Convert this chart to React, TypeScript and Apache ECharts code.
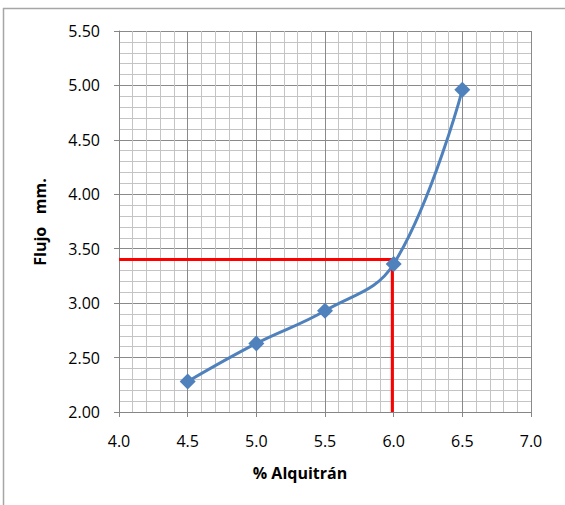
import React, { useEffect, useRef } from "react";
import * as echarts from "echarts";

const alquitran = [4.5, 5.0, 5.5, 6.0, 6.5];
const flujo = [2.28, 2.63, 2.93, 3.36, 4.96];
const refX = [4.0, 5.99, 5.99];
const refY = [3.4, 3.4, 2.0];
const xTitle = "% Alquitrán";
const yTitle = "Flujo   mm.";

export default function App() {
  const ref = useRef<HTMLDivElement>(null);
  useEffect(() => {
    if (!ref.current) return;
    const chart = echarts.init(ref.current, undefined, { renderer: "svg" });
    const font = "'Open Sans', 'Noto Sans', sans-serif";
    chart.setOption({
      animation: false,
      backgroundColor: "#fff",
      grid: { left: 119, top: 31, right: 34, bottom: 93 },
      xAxis: {
        type: "value",
        min: 4.0,
        max: 7.0,
        interval: 0.5,
        axisLine: { show: true, lineStyle: { color: "#868686", width: 1 } },
        axisTick: { show: true, length: 5, lineStyle: { color: "#868686" } },
        axisLabel: {
          margin: 21,
          color: "#000",
          fontFamily: font,
          fontSize: 16,
          formatter: (v: number) => v.toFixed(1),
        },
        splitLine: { show: true, lineStyle: { color: "#8a8a8a", width: 1 } },
        minorTick: { show: false, splitNumber: 5 },
        minorSplitLine: { show: true, lineStyle: { color: "#c4c4c4", width: 1 } },
      },
      yAxis: {
        type: "value",
        min: 2.0,
        max: 5.5,
        interval: 0.5,
        axisLine: { show: true, lineStyle: { color: "#868686", width: 1 } },
        axisTick: { show: true, length: 5, lineStyle: { color: "#868686" } },
        axisLabel: {
          margin: 19,
          color: "#000",
          fontFamily: font,
          fontSize: 16,
          formatter: (v: number) => v.toFixed(2),
        },
        splitLine: { show: true, lineStyle: { color: "#8a8a8a", width: 1 } },
        minorTick: { show: false, splitNumber: 5 },
        minorSplitLine: { show: true, lineStyle: { color: "#c4c4c4", width: 1 } },
      },
      graphic: [
        {
          type: "line",
          shape: { x1: 3, y1: 8.5, x2: 565, y2: 8.5 },
          style: { stroke: "#a6a6a6", lineWidth: 1.5 },
        },
        {
          type: "line",
          shape: { x1: 3.5, y1: 8, x2: 3.5, y2: 505 },
          style: { stroke: "#a6a6a6", lineWidth: 1.5 },
        },
        {
          type: "text",
          x: 300,
          y: 473,
          style: {
            text: xTitle,
            fill: "#000",
            font: `bold 16px ${font}`,
            textAlign: "center",
            textVerticalAlign: "middle",
          },
        },
        {
          type: "text",
          x: 40,
          y: 222,
          rotation: Math.PI / 2,
          style: {
            text: yTitle,
            fill: "#000",
            font: `bold 16px ${font}`,
            textAlign: "center",
            textVerticalAlign: "middle",
          },
        },
      ],
      series: [
        {
          type: "line",
          data: refX.map((x, i) => [x, refY[i]]),
          showSymbol: false,
          symbol: "none",
          lineStyle: { color: "#ff0000", width: 3 },
          z: 2,
        },
        {
          type: "line",
          data: alquitran.map((x, i) => [x, flujo[i]]),
          smooth: 0.4,
          symbol: "diamond",
          symbolSize: 16,
          itemStyle: { color: "#4f81bd" },
          lineStyle: { color: "#4f81bd", width: 3 },
          z: 3,
        },
      ],
    });
    return () => chart.dispose();
  }, []);
  return (
    <div
      ref={ref}
      style={{ position: "fixed", left: 0, top: 0, width: 565, height: 505 }}
    />
  );
}
